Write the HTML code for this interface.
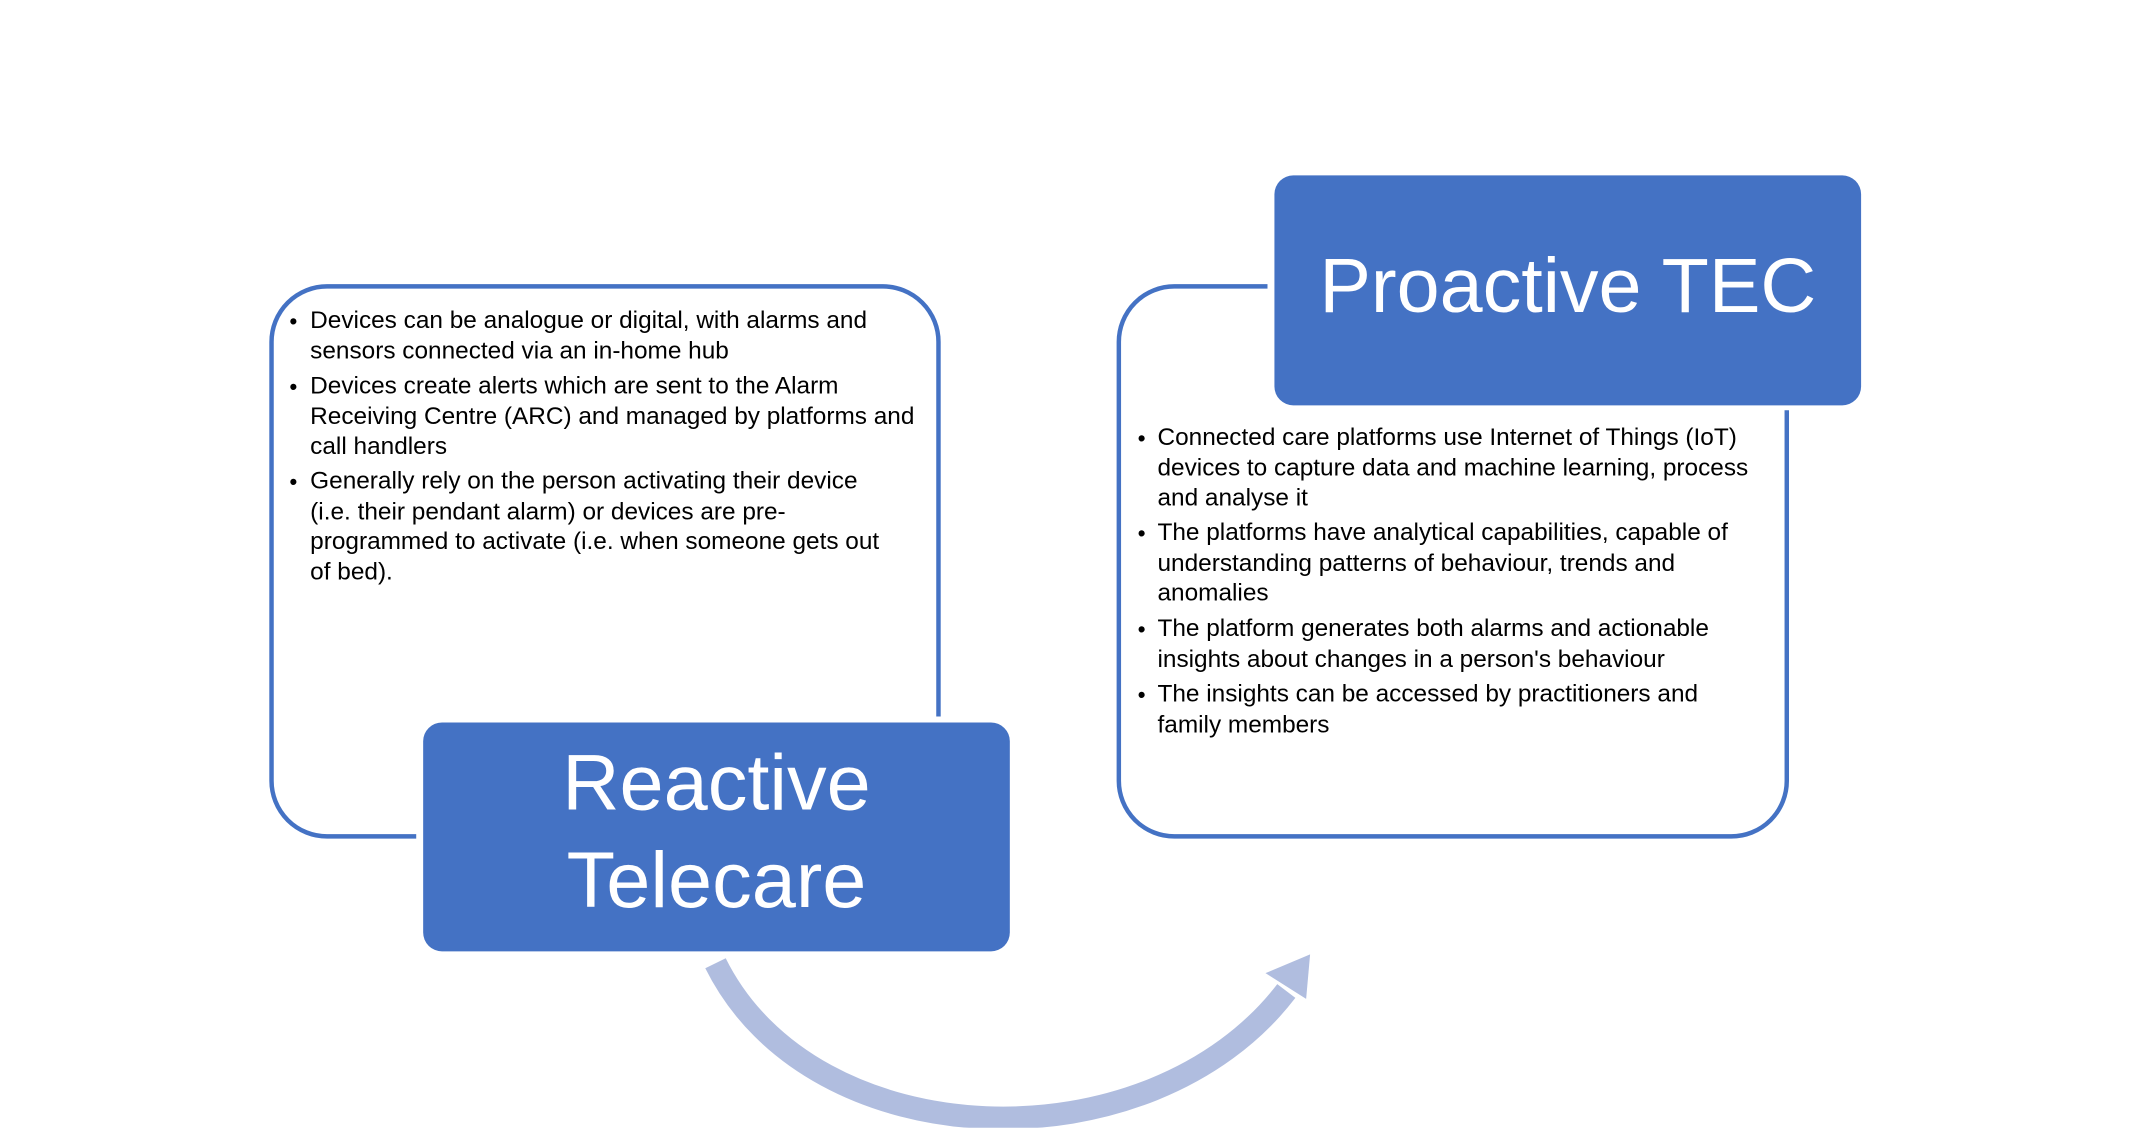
<!DOCTYPE html>
<html><head><meta charset="utf-8"><style>
html,body{margin:0;padding:0;background:#fff;}
#o{position:relative;width:2131px;height:1138px;overflow:hidden;}
#c{position:absolute;left:0;top:0;width:2131px;height:1138px;transform:scale(0.991);transform-origin:0 0;font-family:"Liberation Sans",Arial,sans-serif;}
.t{position:absolute;white-space:nowrap;font-size:24.6px;color:#000;line-height:30.6px;}
.b{position:absolute;font-size:23px;line-height:30.6px;}
.box{position:absolute;background:#4472c4;border-radius:19px;color:#fff;text-align:center;}
</style></head><body><div id="o"><div id="c">
<svg width="2131" height="1138" style="position:absolute;left:0;top:0">
<path d="M420 844 H330 A56 56 0 0 1 274 788 V345 A56 56 0 0 1 330 289 H891 A56 56 0 0 1 947 345 V723" fill="none" stroke="#4472c4" stroke-width="4.5"/>
<path d="M1279 289 H1185 A56 56 0 0 0 1129 345 V788 A56 56 0 0 0 1185 844 H1747 A56 56 0 0 0 1803 788 V414" fill="none" stroke="#4472c4" stroke-width="4.5"/>
<path d="M722 972 C820 1170 1160 1180 1298 1000" fill="none" stroke="#b0bddf" stroke-width="23"/>
<polygon points="1322,963 1277,982 1318,1008" fill="#b0bddf"/>
</svg>
<div class="box" style="left:427px;top:729px;width:592px;height:231px;font-size:80px;line-height:98px;padding-top:12px;box-sizing:border-box">Reactive<br>Telecare</div>
<div class="box" style="left:1286px;top:177px;width:592px;height:232px"></div>
<div style="position:absolute;left:1286px;top:238px;width:592px;text-align:center;color:#fff;font-size:78px;line-height:100px">Proactive TEC</div>

<div class="b" style="left:292px;top:309px">•</div>
<div class="t" style="left:313px;top:309px">Devices can be analogue or digital, with alarms and<br>sensors connected via an in-home hub</div>
<div class="b" style="left:292px;top:375px">•</div>
<div class="t" style="left:313px;top:375px">Devices create alerts which are sent to the Alarm<br>Receiving Centre (ARC) and managed by platforms and<br>call handlers</div>
<div class="b" style="left:292px;top:471px">•</div>
<div class="t" style="left:313px;top:471px">Generally rely on the person activating their device<br>(i.e. their pendant alarm) or devices are pre-<br>programmed to activate (i.e. when someone gets out<br>of bed).</div>

<div class="b" style="left:1148px;top:427px">•</div>
<div class="t" style="left:1168px;top:427px">Connected care platforms use Internet of Things (IoT)<br>devices to capture data and machine learning, process<br>and analyse it</div>
<div class="b" style="left:1148px;top:523px">•</div>
<div class="t" style="left:1168px;top:523px">The platforms have analytical capabilities, capable of<br>understanding patterns of behaviour, trends and<br>anomalies</div>
<div class="b" style="left:1148px;top:620px">•</div>
<div class="t" style="left:1168px;top:620px">The platform generates both alarms and actionable<br>insights about changes in a person's behaviour</div>
<div class="b" style="left:1148px;top:686px">•</div>
<div class="t" style="left:1168px;top:686px">The insights can be accessed by practitioners and<br>family members</div>
</div></div></body></html>
